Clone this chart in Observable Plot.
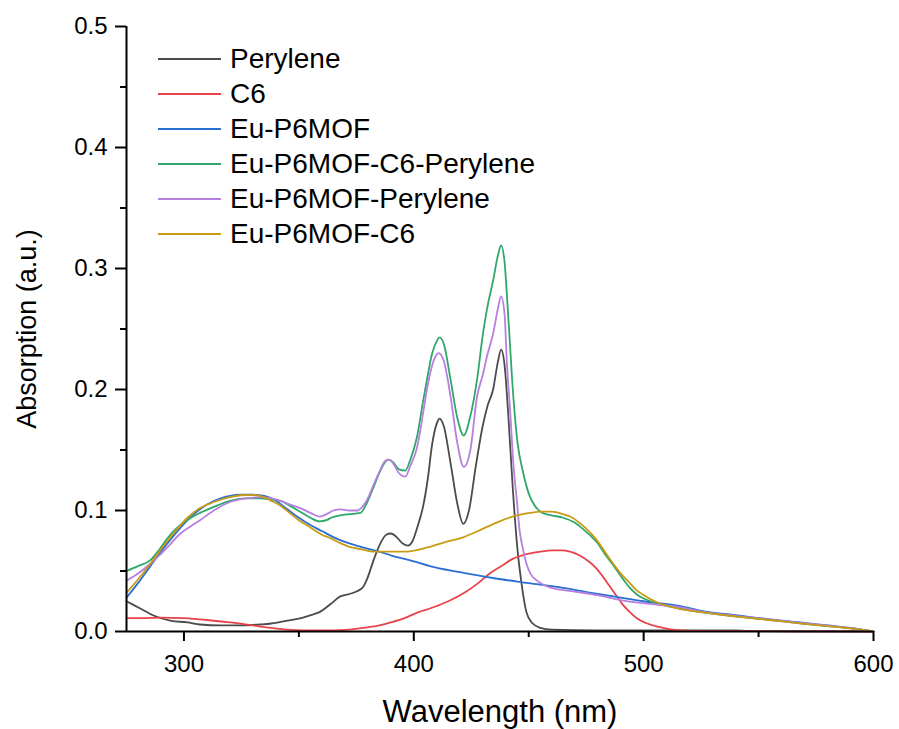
<!DOCTYPE html>
<html>
<head>
<meta charset="utf-8">
<script src="https://cdn.jsdelivr.net/npm/d3@7"></script>
<script src="https://cdn.jsdelivr.net/npm/@observablehq/plot@0.6"></script>
<style>
  html, body { margin: 0; padding: 0; background: #fff; }
  #wrap { position: relative; width: 899px; height: 729px; font-family: "Liberation Sans", Arial, sans-serif; }
  #legend { position: absolute; left: 158px; top: 41px; }
  .row { display: flex; align-items: center; height: 35px; }
  .sw { width: 63px; height: 2px; margin-right: 9px; }
  .lab { font-size: 28px; color: #000; line-height: 35px; }
</style>
</head>
<body>
<div id="wrap"><div id="legend"></div></div>
<script>
const seriesNames = ["Perylene", "C6", "Eu-P6MOF", "Eu-P6MOF-C6-Perylene", "Eu-P6MOF-Perylene", "Eu-P6MOF-C6"];
const seriesColors = ["#4b4b4b", "#e8434b", "#2b6fd4", "#2fa76b", "#b77fe0", "#c99b14"];

const xMajor = [300, 400, 500, 600];
const xMinor = [350, 450, 550];
const yMajor = [0, 0.1, 0.2, 0.3, 0.4, 0.5];
const yMinor = [0.05, 0.15, 0.25, 0.35, 0.45];

const peryleneWl  = [275, 281, 287, 294, 301.5, 307, 316, 325, 333, 338, 345, 351, 356, 359, 364, 368, 372, 375, 378, 380, 382.5, 385, 388, 390, 392, 395, 397.5, 399.5, 401.5, 404, 406, 408, 410, 411.2, 413, 416, 419, 421.5, 424, 427, 430, 432, 434.5, 436.5, 438, 439.5, 441, 443, 445, 447, 449, 451.5, 455, 460, 480, 540, 545, 600];
const peryleneAbs = [0.025, 0.019, 0.013, 0.009, 0.0075, 0.0058, 0.005, 0.005, 0.0058, 0.0066, 0.009, 0.011, 0.014, 0.016, 0.023, 0.029, 0.031, 0.033, 0.037, 0.045, 0.059, 0.071, 0.080, 0.081, 0.079, 0.073, 0.071, 0.075, 0.086, 0.103, 0.125, 0.155, 0.172, 0.176, 0.170, 0.139, 0.105, 0.089, 0.100, 0.137, 0.170, 0.186, 0.200, 0.222, 0.233, 0.220, 0.182, 0.120, 0.070, 0.038, 0.016, 0.007, 0.003, 0.0015, 0.001, 0.001, 0.0003, 0.0];

const c6Wl  = [275, 282, 290, 300, 310, 320, 330, 338, 345, 352, 365, 372, 378, 385, 390, 396, 402, 407, 415, 422, 428, 433, 438, 443, 449, 455, 460, 464, 468, 472, 476, 479, 482, 485, 488, 491, 494, 497, 501, 506, 511, 516, 530, 600];
const c6Abs = [0.011, 0.011, 0.0115, 0.011, 0.0095, 0.0075, 0.005, 0.003, 0.0015, 0.001, 0.001, 0.0015, 0.003, 0.005, 0.0075, 0.011, 0.016, 0.019, 0.025, 0.032, 0.040, 0.048, 0.054, 0.060, 0.064, 0.066, 0.067, 0.067, 0.066, 0.063, 0.058, 0.053, 0.046, 0.038, 0.030, 0.022, 0.016, 0.011, 0.007, 0.004, 0.002, 0.001, 0.0005, 0.0];

const mofWl  = [275, 280, 285, 290, 295, 300, 305, 310, 316, 320, 325, 330, 335, 340, 345, 350, 355, 360, 365, 370, 377, 385, 390, 400, 407, 420, 435, 450, 465, 480, 490, 500, 516, 525, 540, 555, 568, 580, 590, 600];
const mofAbs = [0.028, 0.040, 0.053, 0.066, 0.078, 0.089, 0.098, 0.105, 0.110, 0.112, 0.113, 0.113, 0.112, 0.108, 0.101, 0.094, 0.088, 0.083, 0.078, 0.074, 0.070, 0.066, 0.063, 0.058, 0.054, 0.049, 0.044, 0.040, 0.036, 0.031, 0.028, 0.025, 0.021, 0.017, 0.0135, 0.010, 0.0075, 0.005, 0.003, 0.0];

const mofC6PerWl  = [275, 280, 285.4, 289, 292, 295, 298.5, 303, 307, 313, 320, 327, 333, 338, 342, 346, 350.6, 355, 359, 362, 364, 368, 372, 376.7, 380, 382, 385, 387.5, 389, 391, 393.5, 396.3, 398.5, 401.4, 404, 405.7, 408, 410, 411.2, 413, 416, 419, 421.7, 424.6, 427.5, 430, 431.8, 434.6, 436.5, 438, 439.5, 441, 443.3, 445, 447.6, 450.6, 453, 456, 460, 465, 470, 474, 477, 480, 483.5, 486.7, 490, 494, 497.5, 501.5, 508, 516, 525, 540, 555, 568, 580, 590, 600];
const mofC6PerAbs = [0.050, 0.054, 0.059, 0.067, 0.075, 0.082, 0.088, 0.094, 0.098, 0.103, 0.108, 0.110, 0.110, 0.109, 0.108, 0.104, 0.099, 0.094, 0.091, 0.092, 0.094, 0.096, 0.097, 0.098, 0.108, 0.117, 0.131, 0.140, 0.142, 0.140, 0.134, 0.133, 0.142, 0.161, 0.190, 0.208, 0.230, 0.240, 0.243, 0.238, 0.208, 0.176, 0.162, 0.178, 0.208, 0.245, 0.266, 0.291, 0.310, 0.319, 0.305, 0.263, 0.194, 0.158, 0.131, 0.111, 0.103, 0.098, 0.096, 0.094, 0.090, 0.084, 0.079, 0.073, 0.063, 0.055, 0.046, 0.036, 0.030, 0.026, 0.022, 0.019, 0.016, 0.0125, 0.0095, 0.0068, 0.0045, 0.0025, 0.0];

const mofPerWl  = [275, 280, 285.4, 292, 298.5, 303, 307, 313, 320, 327, 333, 338, 342, 346, 350.6, 355, 359, 362, 365, 368, 372, 375.4, 378, 380, 382, 385, 387.5, 389, 391, 393.5, 396.3, 398.5, 401.4, 404, 405.7, 408, 410, 410.8, 413, 416, 419, 421.7, 424.6, 427.5, 430, 431.8, 434.6, 436.5, 438, 439.5, 440.5, 442, 443.3, 445, 446, 447.5, 449, 451, 453.6, 457, 460, 470, 480, 490, 501.5, 516, 525, 540, 555, 568, 580, 590, 600];
const mofPerAbs = [0.042, 0.048, 0.056, 0.068, 0.081, 0.087, 0.092, 0.100, 0.107, 0.110, 0.111, 0.110, 0.108, 0.105, 0.102, 0.098, 0.095, 0.097, 0.100, 0.101, 0.100, 0.100, 0.104, 0.110, 0.119, 0.132, 0.141, 0.142, 0.139, 0.131, 0.128, 0.137, 0.152, 0.180, 0.200, 0.220, 0.229, 0.230, 0.224, 0.194, 0.155, 0.136, 0.150, 0.194, 0.212, 0.227, 0.247, 0.266, 0.277, 0.262, 0.222, 0.180, 0.139, 0.105, 0.084, 0.068, 0.056, 0.047, 0.042, 0.038, 0.036, 0.033, 0.030, 0.026, 0.023, 0.020, 0.0165, 0.013, 0.0098, 0.0072, 0.0048, 0.0028, 0.0];

const mofC6Wl  = [275, 280, 285, 290, 295, 301.5, 307, 313, 320, 329, 333, 338, 342, 346, 350, 355, 360, 364, 368, 372, 377, 382, 390, 396, 403, 407, 414, 421.7, 429, 436, 443, 450.6, 455, 460, 465, 468, 472, 475, 479, 482.4, 486, 490, 493.5, 497, 501, 506, 515, 525, 540, 555, 568, 580, 590, 600];
const mofC6Abs = [0.032, 0.043, 0.055, 0.068, 0.080, 0.094, 0.102, 0.107, 0.111, 0.113, 0.112, 0.108, 0.104, 0.098, 0.092, 0.086, 0.080, 0.077, 0.073, 0.070, 0.068, 0.066, 0.066, 0.066, 0.068, 0.070, 0.074, 0.078, 0.084, 0.090, 0.095, 0.098, 0.099, 0.099, 0.097, 0.095, 0.090, 0.085, 0.077, 0.068, 0.058, 0.048, 0.041, 0.034, 0.029, 0.024, 0.019, 0.016, 0.0125, 0.0095, 0.0068, 0.0045, 0.0025, 0.0];

const seriesData = [
  [peryleneWl, peryleneAbs],
  [c6Wl, c6Abs],
  [mofWl, mofAbs],
  [mofC6PerWl, mofC6PerAbs],
  [mofPerWl, mofPerAbs],
  [mofC6Wl, mofC6Abs]
];

const rows = seriesData.flatMap(([wl, ab], i) => wl.map((w, j) => ({series: seriesNames[i], wl: w, abs: ab[j]})));

const chart = Plot.plot({
  width: 899,
  height: 729,
  marginLeft: 126,
  marginRight: 26,
  marginTop: 26,
  marginBottom: 98,
  style: {fontFamily: "'Liberation Sans', Arial, sans-serif", background: "white", color: "black"},
  x: {domain: [275, 600]},
  y: {domain: [0, 0.5]},
  color: {domain: seriesNames, range: seriesColors},
  marks: [
    Plot.line(rows, {x: "wl", y: "abs", z: "series", stroke: "series", curve: "monotone-x", strokeWidth: 1.8}),
    Plot.axisX({ticks: xMajor, tickSize: 10, tickPadding: 13, fontSize: 24, strokeWidth: 2, label: null, tickFormat: d => String(d)}),
    Plot.axisX({ticks: xMinor, tickSize: 6, strokeWidth: 2, label: null, tickFormat: () => ""}),
    Plot.axisY({ticks: yMajor, tickSize: 11, tickPadding: 8, fontSize: 24, strokeWidth: 2, label: null, tickFormat: d3.format(".1f")}),
    Plot.axisY({ticks: yMinor, tickSize: 6, strokeWidth: 2, label: null, tickFormat: () => ""}),
    Plot.ruleX([275], {strokeWidth: 2}),
    Plot.ruleY([0], {strokeWidth: 2}),
    Plot.text(["Wavelength (nm)"], {frameAnchor: "bottom", dy: 81, lineAnchor: "middle", fontSize: 31, fill: "black"}),
    Plot.text(["Absorption (a.u.)"], {frameAnchor: "left", dx: -99, rotate: -90, lineAnchor: "middle", textAnchor: "middle", fontSize: 27, fill: "black"})
  ]
});

document.getElementById("wrap").prepend(chart);

const legend = document.getElementById("legend");
seriesNames.forEach((name, i) => {
  const row = document.createElement("div");
  row.className = "row";
  const sw = document.createElement("div");
  sw.className = "sw";
  sw.style.background = seriesColors[i];
  const lab = document.createElement("span");
  lab.className = "lab";
  lab.textContent = name;
  row.appendChild(sw);
  row.appendChild(lab);
  legend.appendChild(row);
});
</script>
</body>
</html>
